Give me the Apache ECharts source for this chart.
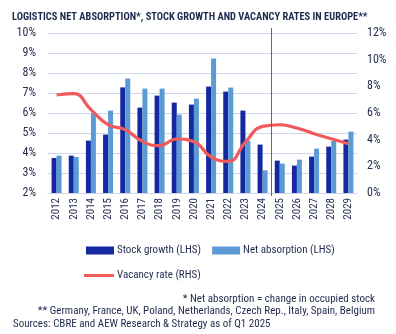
<!DOCTYPE html>
<html><head><meta charset="utf-8">
<script src="https://cdn.jsdelivr.net/npm/echarts@6/dist/echarts.min.js"></script>
<style>html,body{margin:0;padding:0;background:#fff}#c{width:396px;height:334px}</style>
</head><body><div id="c"></div>
<script>
var years = ['2012','2013','2014','2015','2016','2017','2018','2019','2020','2021','2022','2023','2024','2025','2026','2027','2028','2029'];
var stockGrowth = [3.75,3.87,4.62,4.92,7.28,6.27,6.87,6.52,6.42,7.32,7.07,6.12,4.42,3.62,3.37,3.82,4.32,4.67];
var netAbsorption = [3.87,3.8,6.0,6.12,7.72,7.22,7.22,5.92,6.72,8.72,7.27,4.6,3.13,3.47,3.67,4.22,4.6,5.07];
var vacancyRate = [7.35,7.45,6.25,5.12,4.75,3.87,3.55,4.05,3.85,2.7,2.37,3.82,5.0,5.12,4.87,4.45,4.07,3.7];
var leftTicks = {min:2, max:10, interval:1};
var rightTicks = {min:0, max:12, interval:2};
var dividerAfter = '2024';

var navy = '#1f2a4d';
var FF = '"Roboto Condensed", sans-serif';
var chart = echarts.init(document.getElementById('c'), null, {renderer:'canvas'});
var option = {
  animation:false,
  textStyle:{fontFamily:FF, color:navy},
  title:[
    {text:'LOGISTICS NET ABSORPTION*, STOCK GROWTH AND VACANCY RATES IN EUROPE**', left:7, top:7,
     textStyle:{fontFamily:FF, fontSize:10.4, fontWeight:'bold', color:navy}},
    {text:'* Net absorption = change in occupied stock', right:16, top:289,
     textStyle:{fontFamily:FF, fontSize:11, fontWeight:'normal', color:navy}},
    {text:'** Germany, France, UK, Poland, Netherlands, Czech Rep., Italy, Spain, Belgium', right:16, top:301,
     textStyle:{fontFamily:FF, fontSize:11, fontWeight:'normal', color:navy}},
    {text:'Sources: CBRE and AEW Research & Strategy as of Q1 2025', left:8, top:314,
     textStyle:{fontFamily:FF, fontSize:11, fontWeight:'normal', color:navy}}
  ],
  legend:[
    {data:['Stock growth (LHS)','Net absorption (LHS)'], left:81, top:240, itemWidth:28, itemHeight:8, itemGap:11,
     icon:'rect', textStyle:{fontFamily:FF, fontSize:11, color:navy, padding:[0,0,0,-2]}},
    {data:['Vacancy rate (RHS)'], left:79, top:265, itemWidth:30, itemHeight:3, icon:'rect',
     textStyle:{fontFamily:FF, fontSize:11, color:navy, padding:[0,0,0,-2]}}
  ],
  grid:{left:48, right:39, top:33, bottom:141},
  xAxis:{type:'category', data:years, axisTick:{show:false},
    axisLine:{lineStyle:{color:'#d0d6f0', width:1}},
    axisLabel:{rotate:90, interval:0, fontSize:11, color:navy, margin:5, fontFamily:FF}},
  yAxis:[
    {type:'value', min:leftTicks.min, max:leftTicks.max, interval:leftTicks.interval,
     axisLabel:{formatter:'{value}%', fontSize:12, color:navy, margin:12, fontFamily:FF},
     splitLine:{lineStyle:{color:'#d0d6f0', width:1}}, axisLine:{show:false}, axisTick:{show:false}},
    {type:'value', min:rightTicks.min, max:rightTicks.max, interval:rightTicks.interval, position:'right',
     axisLabel:{formatter:'{value}%', fontSize:12, color:navy, margin:10, fontFamily:FF},
     splitLine:{show:false}, axisLine:{show:false}, axisTick:{show:false}}
  ],
  series:[
    {name:'Stock growth (LHS)', type:'bar', data:stockGrowth, barWidth:5, barGap:'0%', itemStyle:{color:'#1428a0'}, yAxisIndex:0},
    {name:'Net absorption (LHS)', type:'bar', data:netAbsorption, barWidth:5, barGap:'0%', itemStyle:{color:'#5b9bd5'}, yAxisIndex:0},
    {name:'Vacancy rate (RHS)', type:'line', data:vacancyRate, yAxisIndex:1, smooth:0.5, showSymbol:false,
     lineStyle:{color:'#f05a5a', width:3.2}, itemStyle:{color:'#f05a5a'}}
  ]
};
chart.setOption(option);
var i = years.indexOf(dividerAfter);
var p1 = chart.convertToPixel({xAxisIndex:0, yAxisIndex:0}, [years[i], leftTicks.min]);
var p2 = chart.convertToPixel({xAxisIndex:0, yAxisIndex:0}, [years[i+1], leftTicks.max]);
var xm = Math.round((p1[0]+p2[0])/2)+0.5;
chart.setOption({graphic:[{type:'line', shape:{x1:xm, y1:p2[1]-5, x2:xm, y2:p1[1]+3}, style:{stroke:'#5a6878', lineWidth:1}, z:10}]});
</script></body></html>
